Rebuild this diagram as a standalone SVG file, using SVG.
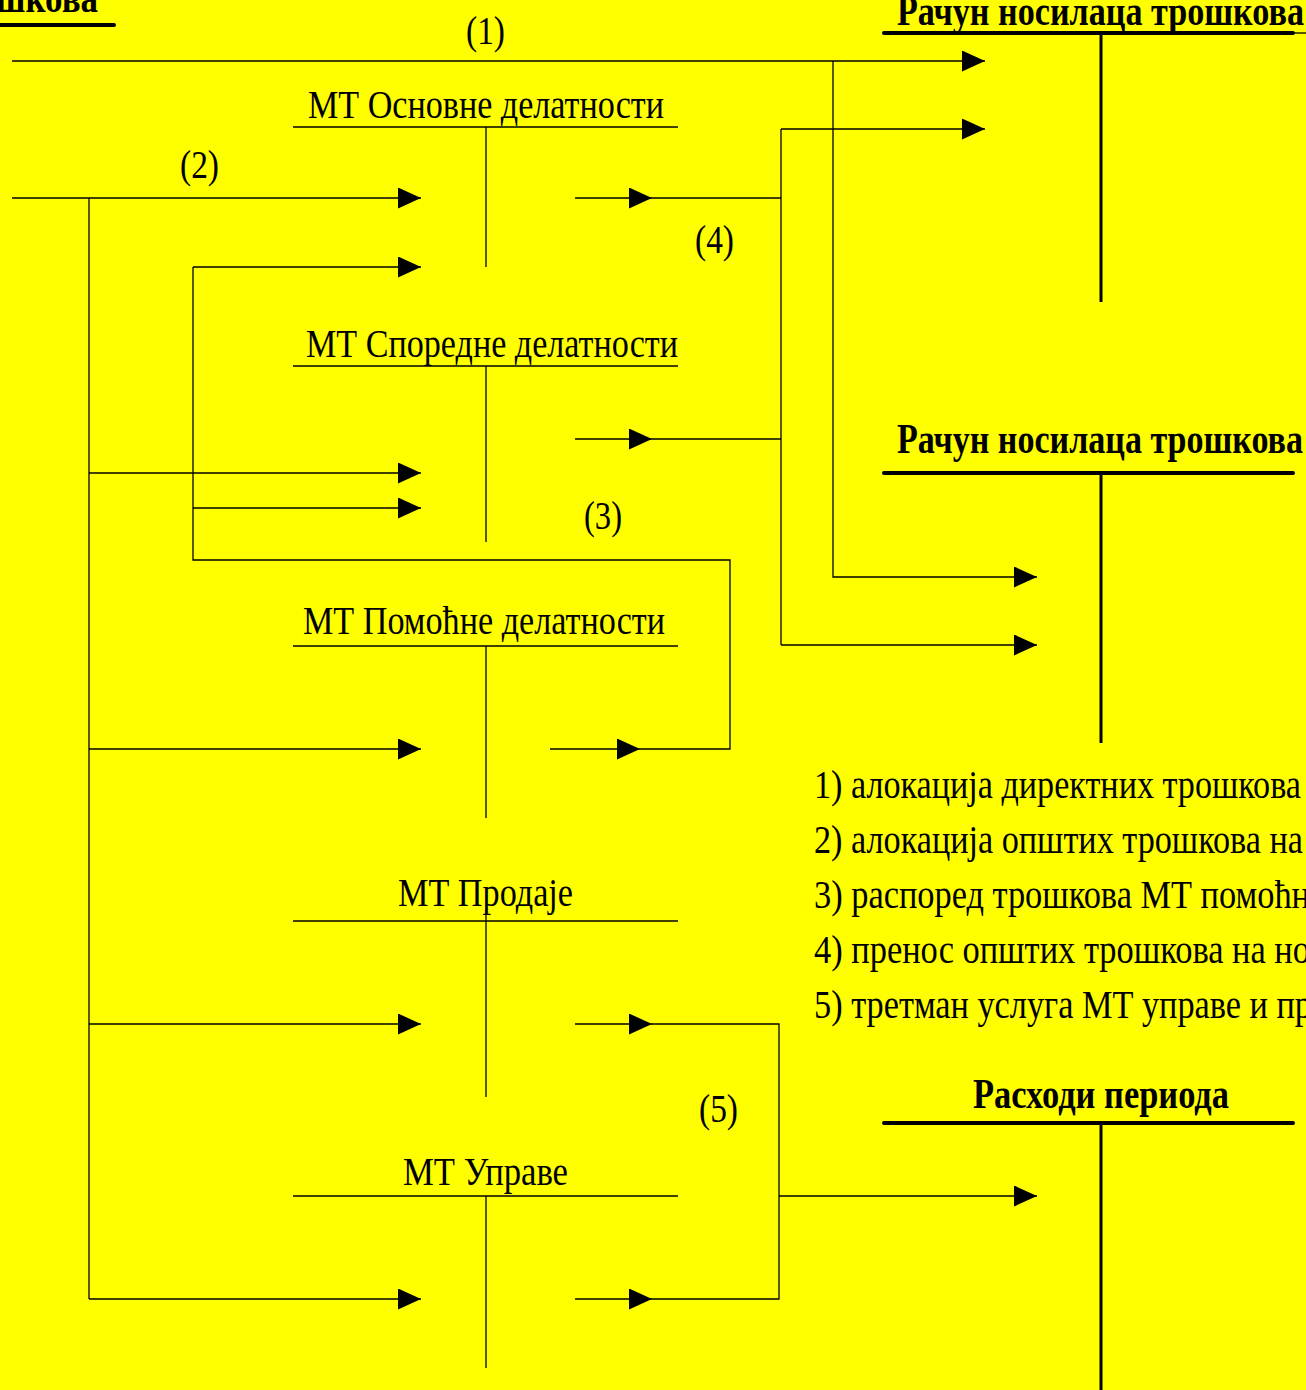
<svg xmlns="http://www.w3.org/2000/svg" width="1306" height="1390" viewBox="0 0 1306 1390">
<style>
  .t{font-family:"Liberation Serif","Times New Roman",serif;font-size:40px;fill:#000}
  .b{font-family:"Liberation Serif","Times New Roman",serif;font-size:42px;font-weight:bold;fill:#000}
  .th{stroke:#000;stroke-width:1.3;fill:none}
  .tk{stroke:#000;stroke-width:4;stroke-linecap:round;fill:none}
  .tv{stroke:#000;stroke-width:3;fill:none}
  .c{stroke:#000;stroke-width:1.3;fill:none}
  .a{stroke:#000;stroke-width:1.3;fill:none;marker-end:url(#ah)}
</style>
<defs>
  <marker id="ah" markerUnits="userSpaceOnUse" markerWidth="23" markerHeight="21" refX="23" refY="10.5" orient="auto">
    <path d="M0,0 L23,10.5 L0,21 Z" fill="#000"/>
  </marker>
</defs>
<rect x="0" y="0" width="1306" height="1390" fill="#FFFF00"/>

<g id="node-source">
  <text class="b" x="-4" y="12" textLength="102" lengthAdjust="spacingAndGlyphs">шкова</text>
  <line class="tk" x1="-5" y1="25" x2="114" y2="25"/>
</g>

<g id="node-carrier1">
  <text class="b" x="897" y="25" textLength="407" lengthAdjust="spacingAndGlyphs">Рачун носилаца трошкова</text>
  <line class="tk" x1="884" y1="33" x2="1293" y2="33"/>
  <line class="th" x1="1293" y1="33" x2="1306" y2="33"/>
  <line class="tv" x1="1101" y1="33" x2="1101" y2="302"/>
</g>

<g id="node-carrier2">
  <text class="b" x="897" y="453" textLength="406" lengthAdjust="spacingAndGlyphs">Рачун носилаца трошкова</text>
  <line class="tk" x1="884" y1="473" x2="1293" y2="473"/>
  <line class="tv" x1="1101" y1="473" x2="1101" y2="743"/>
</g>

<g id="node-period">
  <text class="b" x="973" y="1108" textLength="256" lengthAdjust="spacingAndGlyphs">Расходи периода</text>
  <line class="tk" x1="884" y1="1123" x2="1293" y2="1123"/>
  <line class="tv" x1="1101" y1="1123" x2="1101" y2="1392"/>
</g>

<g id="node-osnovne">
  <text class="t" x="308" y="118" textLength="356" lengthAdjust="spacingAndGlyphs">МТ Основне делатности</text>
  <line class="th" x1="293" y1="127" x2="678" y2="127"/>
  <line class="th" x1="486" y1="127" x2="486" y2="267"/>
</g>

<g id="node-sporedne">
  <text class="t" x="306" y="357" textLength="372" lengthAdjust="spacingAndGlyphs">МТ Споредне делатности</text>
  <line class="th" x1="293" y1="366" x2="678" y2="366"/>
  <line class="th" x1="486" y1="366" x2="486" y2="542"/>
</g>

<g id="node-pomocne">
  <text class="t" x="303" y="634" textLength="362" lengthAdjust="spacingAndGlyphs">МТ Помоћне делатности</text>
  <line class="th" x1="293" y1="646" x2="678" y2="646"/>
  <line class="th" x1="486" y1="646" x2="486" y2="818"/>
</g>

<g id="node-prodaje">
  <text class="t" x="398" y="906" textLength="175" lengthAdjust="spacingAndGlyphs">МТ Продаје</text>
  <line class="th" x1="293" y1="921" x2="678" y2="921"/>
  <line class="th" x1="486" y1="910" x2="486" y2="1097"/>
</g>

<g id="node-uprave">
  <text class="t" x="403" y="1185" textLength="165" lengthAdjust="spacingAndGlyphs">МТ Управе</text>
  <line class="th" x1="293" y1="1196" x2="678" y2="1196"/>
  <line class="th" x1="486" y1="1196" x2="486" y2="1368"/>
</g>

<g id="connectors">
  <line class="a" x1="12" y1="61" x2="985" y2="61"/>
  <polyline class="a" points="833,61 833,577 1037,577"/>
  <line class="a" x1="12" y1="198" x2="421" y2="198"/>
  <line class="c" x1="89" y1="198" x2="89" y2="1299"/>
  <line class="a" x1="89" y1="473" x2="421" y2="473"/>
  <line class="a" x1="89" y1="749" x2="421" y2="749"/>
  <line class="a" x1="89" y1="1024" x2="421" y2="1024"/>
  <line class="a" x1="89" y1="1299" x2="421" y2="1299"/>
  <line class="a" x1="550" y1="749" x2="640" y2="749"/>
  <polyline class="c" points="640,749 730,749 730,560 193,560 193,267"/>
  <line class="a" x1="193" y1="267" x2="421" y2="267"/>
  <line class="a" x1="193" y1="508" x2="421" y2="508"/>
  <line class="a" x1="575" y1="198" x2="652" y2="198"/>
  <line class="c" x1="652" y1="198" x2="781" y2="198"/>
  <line class="a" x1="575" y1="439" x2="652" y2="439"/>
  <line class="c" x1="652" y1="439" x2="781" y2="439"/>
  <line class="c" x1="781" y1="129" x2="781" y2="645"/>
  <line class="a" x1="781" y1="129" x2="985" y2="129"/>
  <line class="a" x1="781" y1="645" x2="1037" y2="645"/>
  <line class="a" x1="575" y1="1024" x2="652" y2="1024"/>
  <line class="a" x1="575" y1="1299" x2="652" y2="1299"/>
  <polyline class="c" points="652,1024 779,1024 779,1299 652,1299"/>
  <line class="a" x1="779" y1="1196" x2="1037" y2="1196"/>
</g>

<g id="labels">
  <text class="t" x="466" y="44" textLength="39" lengthAdjust="spacingAndGlyphs">(1)</text>
  <text class="t" x="180" y="178" textLength="39" lengthAdjust="spacingAndGlyphs">(2)</text>
  <text class="t" x="584" y="529" textLength="38" lengthAdjust="spacingAndGlyphs">(3)</text>
  <text class="t" x="695" y="253" textLength="39" lengthAdjust="spacingAndGlyphs">(4)</text>
  <text class="t" x="699" y="1122" textLength="39" lengthAdjust="spacingAndGlyphs">(5)</text>
</g>

<g id="legend">
  <text class="t" x="814" y="798" textLength="487" lengthAdjust="spacingAndGlyphs">1) алокација директних трошкова</text>
  <text class="t" x="814" y="853" textLength="489" lengthAdjust="spacingAndGlyphs">2) алокација општих трошкова на</text>
  <text class="t" x="814" y="908" textLength="496" lengthAdjust="spacingAndGlyphs">3) распоред трошкова МТ помоћн</text>
  <text class="t" x="814" y="963" textLength="496" lengthAdjust="spacingAndGlyphs">4) пренос општих трошкова на но</text>
  <text class="t" x="814" y="1018" textLength="498" lengthAdjust="spacingAndGlyphs">5) третман услуга МТ управе и пр</text>
</g>
</svg>
